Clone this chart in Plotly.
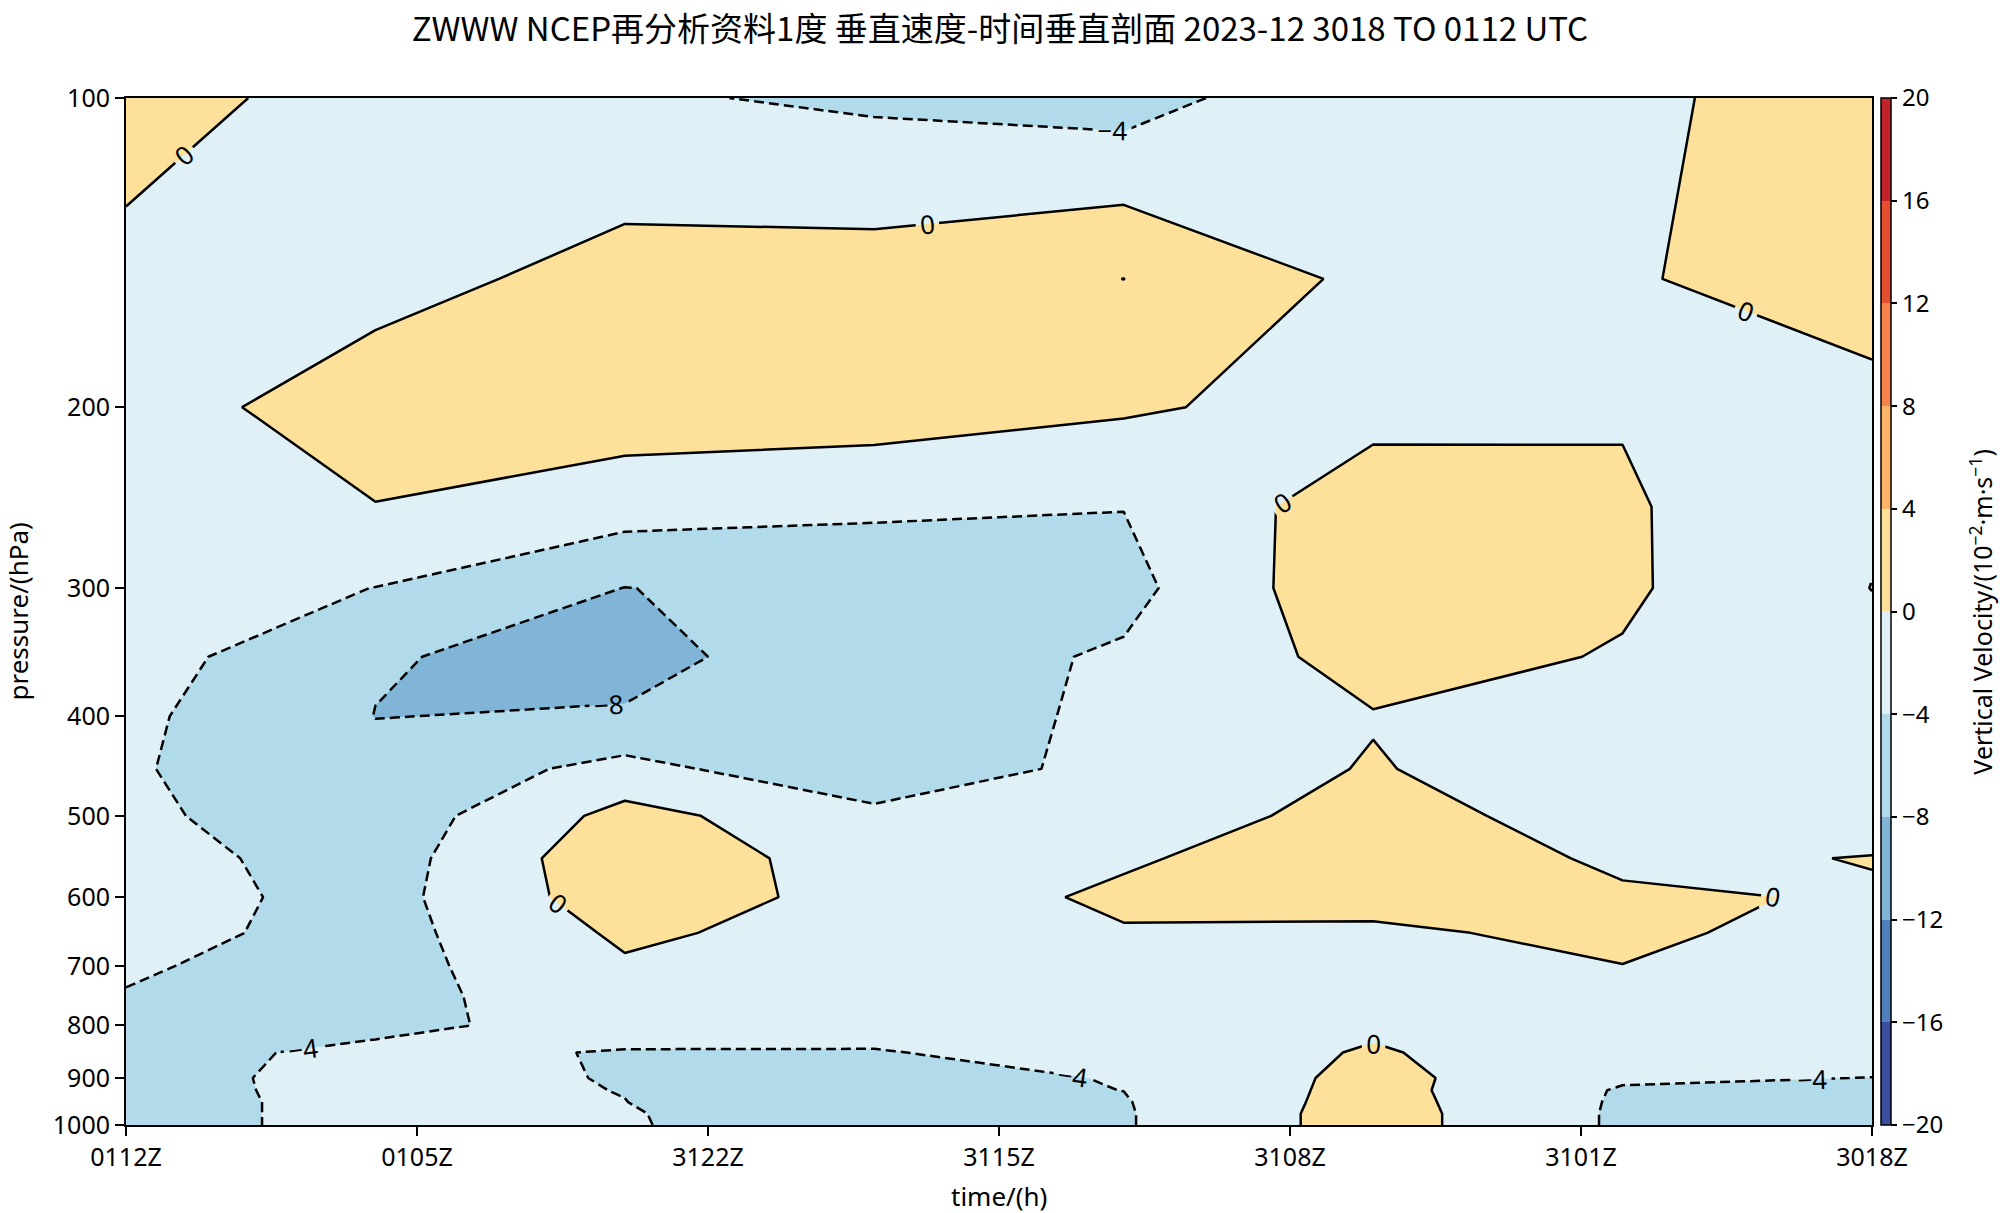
import plotly.graph_objects as go

# pressure levels (hPa), top to bottom of the grid
pressure = [100, 150, 200, 250, 300, 350, 400, 450, 500, 550, 600,
            650, 700, 750, 800, 850, 900, 925, 950, 975, 1000]
# hours counted from 0112Z backwards to 3018Z (6-hourly analyses)
hours = [0, 6, 12, 18, 24, 30, 36, 42]
tick_hours = [0, 7, 14, 21, 28, 35, 42]
tick_labels = ['0112Z', '0105Z', '3122Z', '3115Z', '3108Z', '3101Z', '3018Z']
p_ticks = [100, 200, 300, 400, 500, 600, 700, 800, 900, 1000]
cbar_ticks = [-20, -16, -12, -8, -4, 0, 4, 8, 12, 16, 20]

# vertical velocity (10^-2 m/s) per analysis time, 100 hPa -> 1000 hPa
w_0112 = [1.5, -1.0, -1.96, -1.5, -2.0, -2.14, -3.14, -3.59, -3.21, -2.31, -2.17,
          -2.64, -3.63, -4.16, -4.5, -4.5, -4.6, -4.6, -4.6, -4.6, -4.6]
w_0106 = [-1.56, -1.5, 2.25, -0.12, -4.05, -7.77, -8.05, -7.0, -6.5, -6.0, -5.5,
          -5.5, -5.5, -5.0, -4.35, -3.67, -3.42, -3.45, -3.5, -3.5, -3.5]
w_0100 = [-3.51, 1.53, 2.1, -2.2, -8.05, -9.0, -7.73, -2.69, 1.27, 3.0, 2.36,
          0.68, -0.44, -2.17, -3.43, -4.08, -4.1, -4.04, -3.98, -3.85, -3.8]
w_3118 = [-4.68, 1.77, 2.0, -3.26, -7.0, -6.0, -5.5, -7.21, -2.9, -2.17, -1.47,
          -1.64, -3.0, -3.2, -3.3, -4.11, -4.6, -4.8, -5.5, -5.5, -5.6]
w_3112 = [-5.8, 4.02, 0.5, -3.92, -5.22, -3.5, -3.45, -2.42, -1.2, -0.31, 0.45,
          -0.18, -1.0, -1.5, -2.5, -3.26, -3.9, -3.98, -4.2, -4.3, -4.3]
w_3106 = [-0.35, -1.0, -1.5, 2.5, 3.48, 1.5, -0.2, 0.25, 0.83, 1.61, 0.67,
          -0.32, -1.0, -1.0, -0.79, 0.45, 1.17, 1.33, 1.55, 1.76, 1.76]
w_3100 = [-1.02, -0.38, -0.28, 0.46, 0.56, -0.29, -1.5, -2.35, -0.99, -0.42, 0.32,
          0.5, -0.03, -1.5, -2.5, -3.26, -3.5, -4.35, -4.5, -4.6, -4.6]
w_3018 = [2.5, 2.0, -1.18, -3.5, -4.05, -3.0, -2.5, -2.0, -1.05, 0.08, -0.19,
          -0.97, -1.0, -1.5, -2.0, -2.5, -4.05, -4.5, -4.6, -4.7, -4.7]

columns = [w_0112, w_0106, w_0100, w_3118, w_3112, w_3106, w_3100, w_3018]
z = [[col[i] for col in columns] for i in range(len(pressure))]

band_colors = ['#3a4d9f', '#4f7fbc', '#80b5d8', '#b1dbea', '#dff0f6',
               '#fde19b', '#fdb467', '#f6824c', '#e4502f', '#c2222a']
cscale = []
for k, c in enumerate(band_colors):
    cscale.append([k / 10, c])
    cscale.append([(k + 1) / 10, c])

fig = go.Figure()

fig.add_trace(go.Contour(
    x=hours, y=pressure, z=z,
    colorscale=cscale, zmin=-20, zmax=20, autocontour=False,
    contours=dict(start=-20, end=20, size=4, coloring='fill', showlines=False),
    line=dict(width=0, smoothing=0),
    showscale=False, hoverinfo='skip'))

fig.add_trace(go.Contour(
    x=hours, y=pressure, z=z, autocontour=False,
    contours=dict(start=0, end=20, size=4, coloring='none', showlabels=True,
                  labelfont=dict(size=26, color='black', family='Noto Sans')),
    line=dict(color='black', width=2.5, dash='solid', smoothing=0),
    showscale=False, hoverinfo='skip'))

fig.add_trace(go.Contour(
    x=hours, y=pressure, z=z, autocontour=False,
    contours=dict(start=-20, end=-4, size=4, coloring='none', showlabels=True,
                  labelfont=dict(size=26, color='black', family='Noto Sans')),
    line=dict(color='black', width=2.5, dash='10px,5px', smoothing=0),
    showscale=False, hoverinfo='skip'))

# colour bar carrier
fig.add_trace(go.Scatter(
    x=[-10], y=[500], mode='markers', hoverinfo='skip', showlegend=False,
    marker=dict(size=1, color=[0], colorscale=cscale, cmin=-20, cmax=20,
                showscale=True,
                colorbar=dict(thickness=10, thicknessmode='pixels', len=1, lenmode='fraction',
                              x=1.0052, xanchor='left', y=0.5, yanchor='middle',
                              xpad=0, ypad=0, outlinecolor='black', outlinewidth=1.5,
                              tickvals=cbar_ticks,
                              ticktext=[str(v).replace('-', '\u2212') for v in cbar_ticks],
                              ticks='outside', ticklen=6, tickwidth=1.5, tickcolor='black',
                              tickfont=dict(size=24, color='black', family='Noto Sans')))))

axis_common = dict(showline=True, linewidth=2, linecolor='black', mirror=True,
                   ticks='outside', ticklen=9, tickwidth=2, tickcolor='black',
                   showgrid=False, zeroline=False,
                   tickfont=dict(size=25, color='black', family='Noto Sans'))

fig.update_layout(
    width=2000, height=1213,
    margin=dict(l=126, r=128, t=98, b=88),
    paper_bgcolor='white', plot_bgcolor='white',
    showlegend=False,
    title=dict(text='ZWWW NCEP再分析资料1度 垂直速度-时间垂直剖面 2023-12 3018 TO 0112 UTC',
               x=0.5, xanchor='center', y=0.976, yanchor='middle',
               font=dict(size=33, color='black', family='Noto Sans CJK SC')),
    xaxis=dict(range=[0, 42], tickvals=tick_hours, ticktext=tick_labels, **axis_common),
    yaxis=dict(type='log', range=[3, 2], tickvals=p_ticks, ticktext=[str(p) for p in p_ticks],
               **axis_common),
    annotations=[
        dict(text='pressure/(hPa)', xref='paper', yref='paper', x=-0.0624, y=0.5,
             xanchor='center', yanchor='middle', textangle=-90, showarrow=False,
             font=dict(size=26, color='black', family='Noto Sans')),
        dict(text='time/(h)', xref='paper', yref='paper', x=0.5, y=-0.069,
             xanchor='center', yanchor='middle', showarrow=False,
             font=dict(size=26, color='black', family='Noto Sans')),
        dict(text='Vertical Velocity/(10<sup>\u22122</sup>\u00b7m\u00b7s<sup>\u22121</sup>)',
             xref='paper', yref='paper', x=1.0625, y=0.5,
             xanchor='center', yanchor='middle', textangle=-90, showarrow=False,
             font=dict(size=25, color='black', family='Noto Sans')),
    ],
)

fig.write_html('out.html', config={'displayModeBar': False},
               post_script="document.body.style.margin='0px';document.body.style.overflow='hidden';")
